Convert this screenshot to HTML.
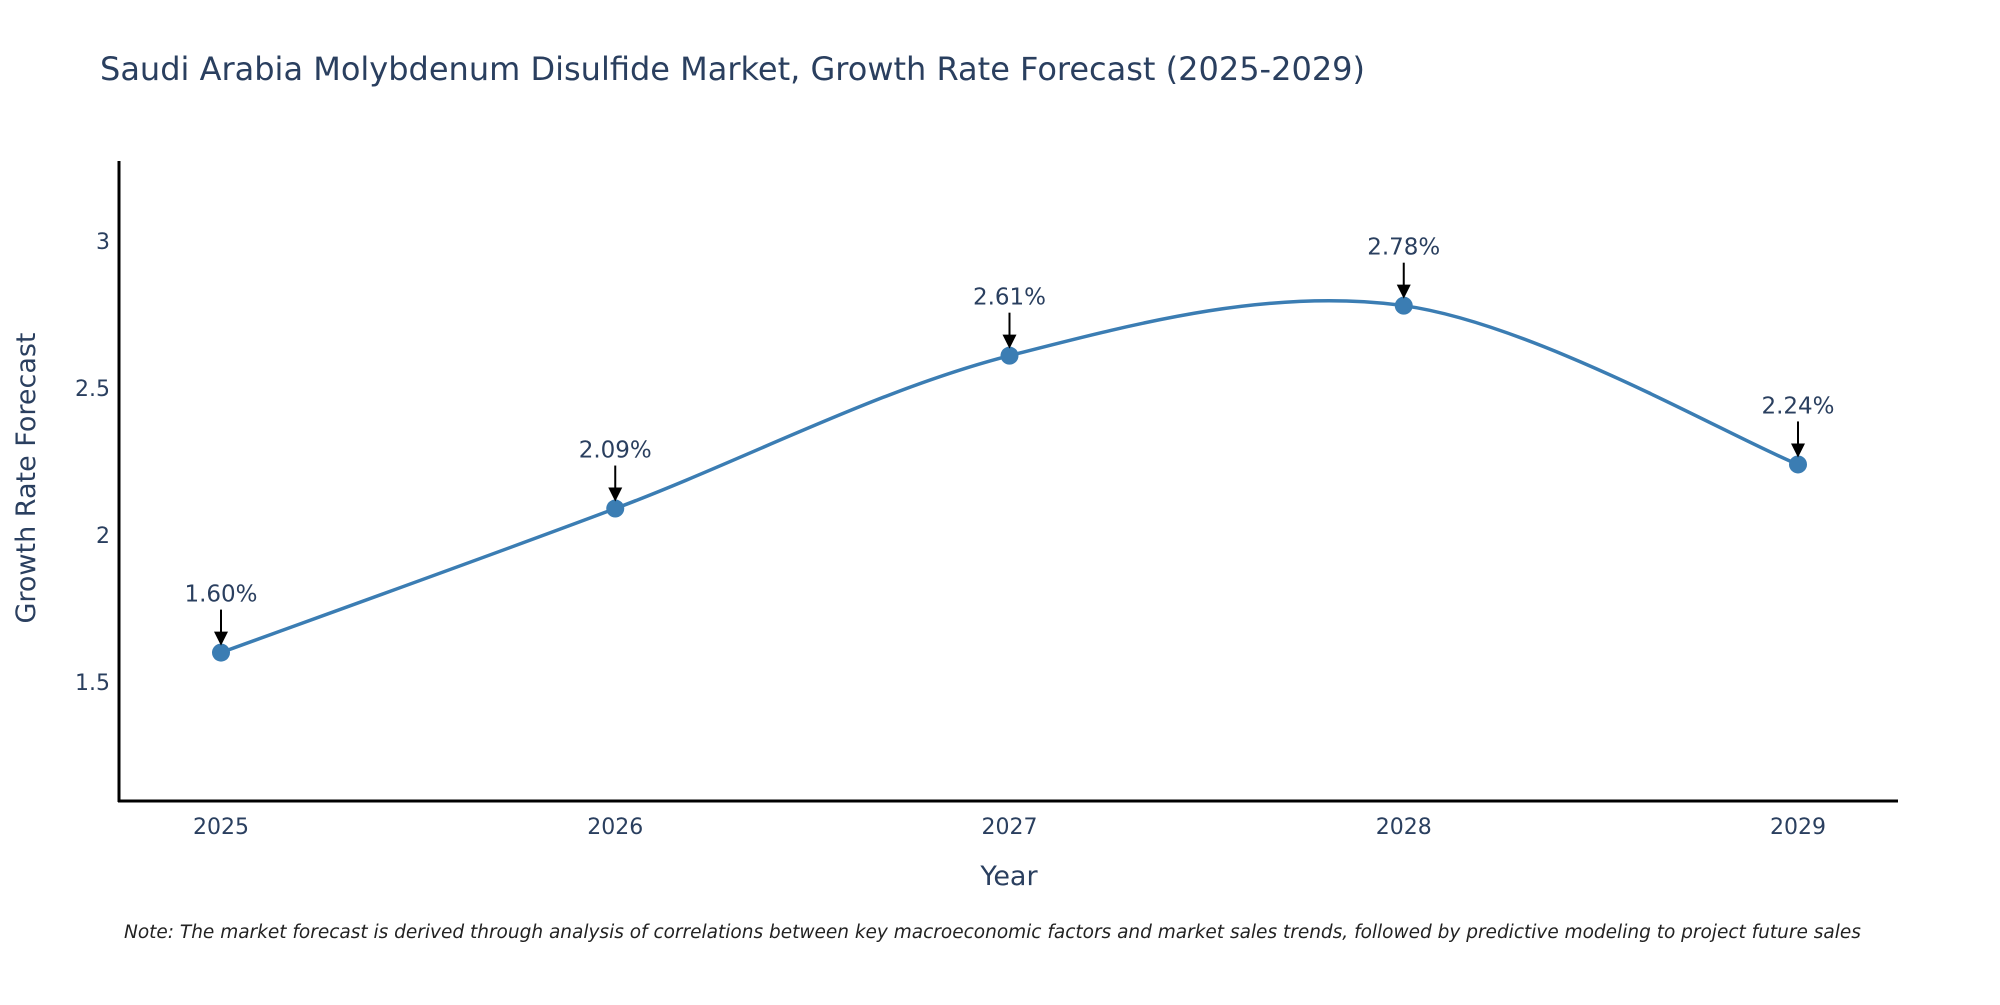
<!DOCTYPE html>
<html><head><meta charset="utf-8"><style>
body{margin:0;background:#fff}
svg text{font-family:"DejaVu Sans","Liberation Sans",sans-serif}
</style></head><body>
<svg id="chart" width="2000" height="1000" xmlns="http://www.w3.org/2000/svg">
<text x="100" y="80" font-size="32" fill="#2a3f5f">Saudi Arabia Molybdenum Disulfide Market, Growth Rate Forecast (2025-2029)</text>
<g id="yticks"></g><g id="xticks"></g>
<line x1="119" y1="161" x2="119" y2="802" stroke="#000" stroke-width="3"/>
<line x1="118" y1="801" x2="1898" y2="801" stroke="#000" stroke-width="3"/>
<path id="line" fill="none" stroke="#3b7db3" stroke-width="3.5"/>
<g id="marks"></g>
<text x="1009" y="885" font-size="27" fill="#2a3f5f" text-anchor="middle">Year</text>
<text transform="translate(35,478) rotate(-90)" font-size="27" fill="#2a3f5f" text-anchor="middle">Growth Rate Forecast</text>
<text x="124" y="938" font-size="18.5" font-style="italic" fill="#222">Note: The market forecast is derived through analysis of correlations between key macroeconomic factors and market sales trends, followed by predictive modeling to project future sales</text>
</svg>
<script>
const years=[2025,2026,2027,2028,2029];
const values=[1.60,2.09,2.61,2.78,2.24];
const labels=["1.60%","2.09%","2.61%","2.78%","2.24%"];
const yTicks=[1.5,2,2.5,3];
const NS="http://www.w3.org/2000/svg";
const X=v=>221+(v-2025)*394.25;
const Y=v=>241+(3-v)*294;
function el(t,a,p){const e=document.createElementNS(NS,t);for(const k in a)e.setAttribute(k,a[k]);document.getElementById(p).appendChild(e);return e;}
yTicks.forEach(t=>{const e=el('text',{x:110,y:Y(t)+8,'font-size':22,fill:'#2a3f5f','text-anchor':'end'},'yticks');e.textContent=t;

});
years.forEach(t=>{const e=el('text',{x:X(t),y:834,'font-size':22,fill:'#2a3f5f','text-anchor':'middle'},'xticks');e.textContent=t;

});
const pts=years.map((y,i)=>[X(y),Y(values[i])]);
let d='M'+pts[0][0]+','+pts[0][1];
for(let i=0;i<pts.length-1;i++){const p0=pts[Math.max(0,i-1)],p1=pts[i],p2=pts[i+1],p3=pts[Math.min(pts.length-1,i+2)];const k=1/6;
const c1=[p1[0]+(p2[0]-p0[0])*k,p1[1]+(p2[1]-p0[1])*k],c2=[p2[0]-(p3[0]-p1[0])*k,p2[1]-(p3[1]-p1[1])*k];
d+=` C${c1[0]},${c1[1]} ${c2[0]},${c2[1]} ${p2[0]},${p2[1]}`;}
document.getElementById('line').setAttribute('d',d);
pts.forEach((p,i)=>{const c=el('circle',{cx:p[0],cy:p[1],r:9,fill:'#3b7db3'},'marks');


const a=el('line',{x1:p[0],y1:p[1]-43,x2:p[0],y2:p[1]-18,stroke:'#000','stroke-width':2},'marks');


const h=el('polygon',{points:`${p[0]-7},${p[1]-21} ${p[0]+7},${p[1]-21} ${p[0]},${p[1]-7}`,fill:'#000'},'marks');


const t=el('text',{x:p[0],y:p[1]-51,'font-size':23,fill:'#2a3f5f','text-anchor':'middle'},'marks');t.textContent=labels[i];

});
</script>
</body></html>
